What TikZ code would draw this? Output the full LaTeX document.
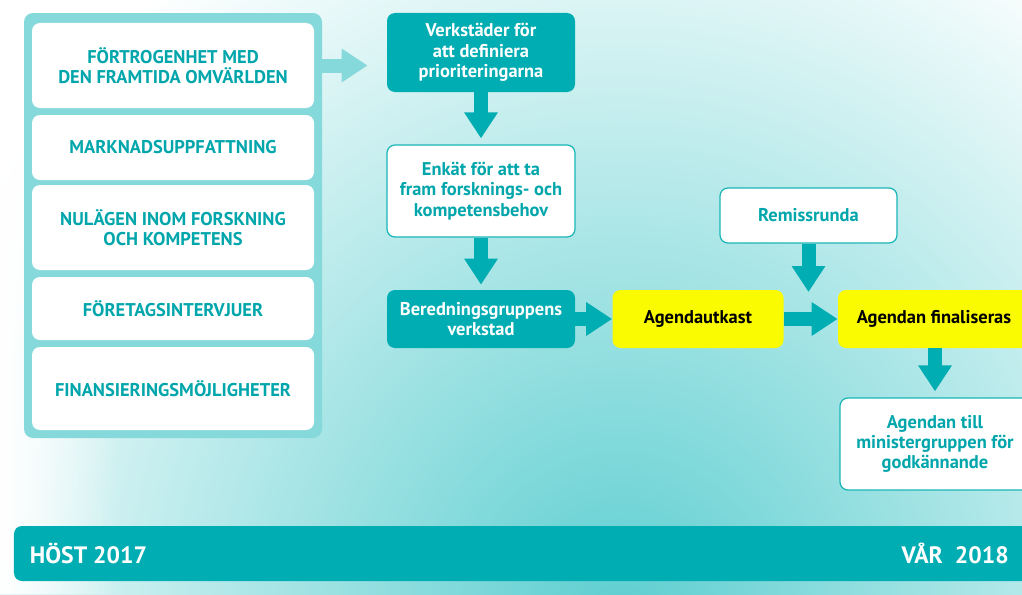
\documentclass[tikz,border=0pt]{standalone}
\usepackage{fontspec}
\setmainfont{PT Sans}
\usepackage{tikz}
\usetikzlibrary{arrows.meta}
\usetikzlibrary{calc}
\usetikzlibrary{fadings}

\definecolor{tealdark}{RGB}{0,173,178}
\definecolor{teallight}{RGB}{134,217,219}
\definecolor{tealtext}{RGB}{0,166,171}
\definecolor{tealline}{RGB}{26,181,184}
\definecolor{tealbg}{RGB}{92,206,208}
\definecolor{agendayellow}{RGB}{250,250,0}

\tikzset{
	boxfont/.style={font=\bfseries\fontsize{10.5}{11.6}\selectfont,align=center},
	panelbox/.style={fill=white,rounded corners=0.16cm,minimum width=5.64cm,boxfont,text=tealtext},
	darkbox/.style={fill=tealdark,rounded corners=0.16cm,boxfont,text=white},
	whitebox/.style={fill=white,draw=tealline,line width=0.7pt,rounded corners=0.16cm,boxfont,text=tealtext},
	yellowbox/.style={fill=agendayellow,rounded corners=0.16cm,boxfont,text=black},
	bigarrow/.style={draw=tealdark,line width=0.28cm,-{Triangle[width=0.64cm,length=0.52cm]}}
}

\begin{document}
\begin{tikzpicture}
	%background
	\clip (0,0) rectangle (20.44,11.88);
	\fill[white] (0,0) rectangle (20.44,11.88);
	\shade[inner color=tealbg,outer color=white] (12.4,-0.6) ellipse (15cm and 16cm);
	\fill[white,path fading=east] (0,0) rectangle (2.4,11.88);	%light left edge
	
	%left panel
	\node[fill=teallight,rounded corners=0.18cm,minimum width=5.96cm,minimum height=8.5cm] (panel) at (3.46,7.37) {};
	\node[panelbox,minimum height=1.70cm] (omv)  at (3.46,10.57) {FÖRTROGENHET MED\\DEN FRAMTIDA OMVÄRLDEN};
	\node[panelbox,minimum height=1.30cm] (mark) at (3.46,8.93)  {MARKNADSUPPFATTNING};
	\node[panelbox,minimum height=1.70cm] (nul)  at (3.46,7.33)  {NULÄGEN INOM FORSKNING\\OCH KOMPETENS};
	\node[panelbox,minimum height=1.26cm] (ftg)  at (3.46,5.71)  {FÖRETAGSINTERVJUER};
	\node[panelbox,minimum height=1.66cm] (fin)  at (3.46,4.11)  {FINANSIERINGSMÖJLIGHETER};
	
	%process boxes
	\node[darkbox,minimum width=3.76cm,minimum height=1.58cm]  (verk)   at (9.62,10.83) {Verkstäder för\\att definiera\\prioriteringarna};
	\node[whitebox,minimum width=3.76cm,minimum height=1.84cm] (enkat)  at (9.62,8.06)  {Enkät för att ta\\fram forsknings- och\\kompetensbehov};
	\node[darkbox,minimum width=3.76cm,minimum height=1.16cm]  (bered)  at (9.62,5.50)  {Beredningsgruppens\\verkstad};
	\node[yellowbox,minimum width=3.42cm,minimum height=1.16cm] (utkast) at (13.96,5.50) {Agendautkast};
	\node[yellowbox,minimum width=3.84cm,minimum height=1.16cm] (final)  at (18.68,5.50) {Agendan finaliseras};
	\node[whitebox,minimum width=3.54cm,minimum height=1.10cm] (remiss) at (16.17,7.57) {Remissrunda};
	\node[whitebox,minimum width=3.80cm,minimum height=1.84cm] (godk)   at (18.70,3.00) {Agendan till\\ministergruppen för\\godkännande};
	\coordinate (remtip) at (16.17,6.04);
	
	%arrows
	\draw[bigarrow,draw=teallight,shorten >=0.38cm] (panel.east |- omv) -- (verk.west |- omv);	%panel | verkstad
	\draw[bigarrow,shorten >=0.12cm] (verk) -- (enkat);		%verkstad | enkat
	\draw[bigarrow,shorten >=0.10cm] (enkat) -- (bered);	%enkat | beredning
	\draw[bigarrow] (bered) -- (utkast);					%beredning | utkast
	\draw[bigarrow] (utkast) -- (final);					%utkast | final
	\draw[bigarrow] (remiss) -- (remtip);					%remiss
	\draw[bigarrow,shorten >=0.12cm] (final.south -| godk) -- (godk);	%final | godkannande
	
	%time bar
	\node[fill=tealdark,rounded corners=0.16cm,minimum width=20.32cm,minimum height=1.10cm] (bar) at (10.44,0.81) {};
	\node[anchor=west,text=white,font=\bfseries\fontsize{13.5}{15}\selectfont] (host) at ([xshift=0.2cm]bar.west) {HÖST 2017};
	\node[anchor=east,text=white,font=\bfseries\fontsize{13.5}{15}\selectfont] (var)  at (20.30,0.81) {VÅR~~2018};
\end{tikzpicture}
\end{document}
